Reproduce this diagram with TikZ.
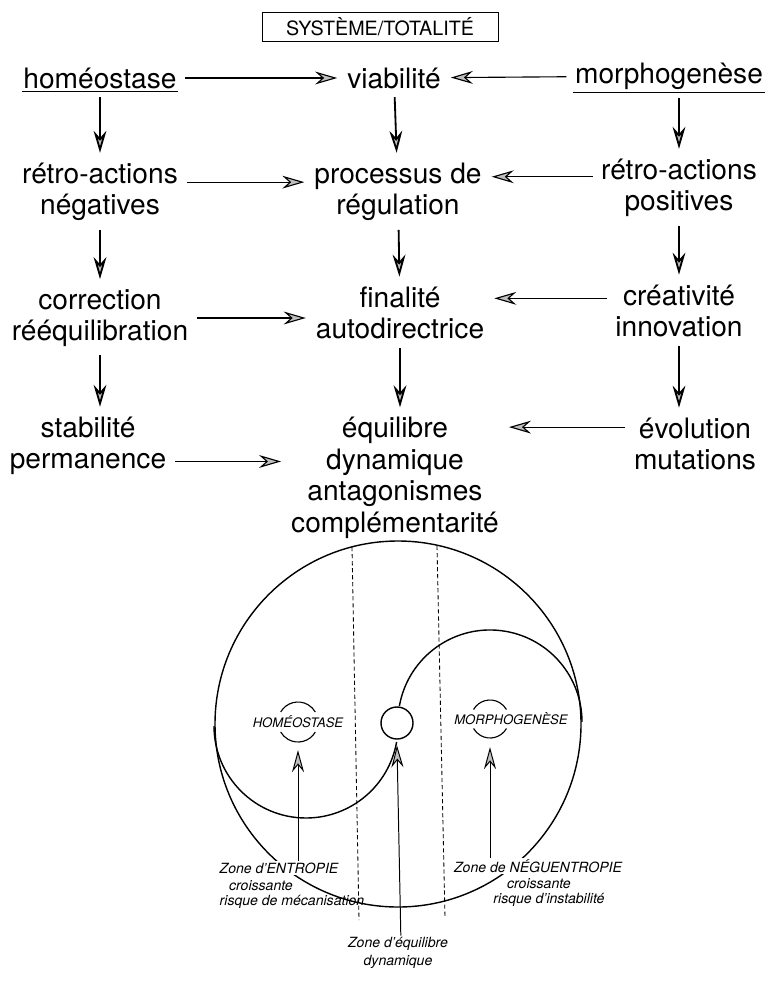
\documentclass[tikz,border=0pt]{standalone}
\usepackage{fontspec}
\setmainfont{TeX Gyre Heros}
\usetikzlibrary{arrows.meta,positioning}
\tikzset{
  term/.style={align=center,font=\fontsize{20}{22.4}\selectfont,inner sep=1pt},
  headbox/.style={draw,line width=0.6pt,minimum width=5.9cm,minimum height=0.72cm,
                  inner sep=2pt,font=\fontsize{14}{16}\selectfont},
  flowarr/.style={-{Stealth[length=5.5mm,width=3.2mm,inset=1.8mm,fill=gray!50]},
                  line width=0.8pt,shorten <=5pt,shorten >=6pt},
  downarr/.style={flowarr,line width=1.3pt},
  zonetxt/.style={font=\fontsize{10}{12}\selectfont\itshape,inner sep=1pt},
  symtxt/.style={font=\fontsize{9.3}{11}\selectfont\itshape,inner sep=1pt},
  zonearr/.style={-{Stealth[length=5.5mm,width=3mm,inset=1.8mm,fill=gray!50]},line width=0.7pt},
  zonesep/.style={line width=0.6pt,dash pattern=on 3pt off 2pt}
}
\begin{document}
\begin{tikzpicture}[x=0.025cm,y=-0.025cm]
  \useasboundingbox (0,0) rectangle (764,984);

  % header
  \node[headbox] (sys) at (380,27) {SYSTÈME/TOTALITÉ};

  % three columns
  \node[term] (homeo) at (100,78) {homéostase};
  \node[term] (viab) at (394,78) {viabilité};
  \node[term] (morph) at (669,76) {morphogenèse};
  \node[term] (retroN) at (100,192) {rétro-actions\\négatives};
  \node[term] (proc) at (398,192) {processus de\\régulation};
  \node[term] (retroP) at (679,188) {rétro-actions\\positives};
  \node[term] (corr) at (100,318) {correction\\rééquilibration};
  \node[term] (final) at (400,313) {finalité\\autodirectrice};
  \node[term] (creat) at (679,311) {créativité\\innovation};
  \node[term] (stab) at (88,446) {stabilité\\permanence};
  \node[term] (equil) at (395,478) {équilibre\\dynamique\\antagonismes\\complémentarité};
  \node[term] (evol) at (695,444) {évolution\\mutations};

  \draw[line width=0.6pt] ([yshift=-1pt]homeo.south west) -- ([yshift=-1pt]homeo.south east);
  \draw[line width=0.6pt] ([yshift=-1pt]morph.south west) -- ([yshift=-1pt]morph.south east);

  \draw[downarr] (homeo) -- (retroN);
  \draw[downarr] (retroN) -- (corr);
  \draw[downarr] (corr.south) -- (corr.south |- stab.north);
  \draw[downarr] (viab) -- (proc);
  \draw[downarr] (proc) -- (final);
  \draw[downarr] (final) -- (final.south |- equil.north);
  \draw[downarr] (retroP |- morph.south) -- (retroP);
  \draw[downarr] (retroP) -- (creat);
  \draw[downarr] (creat.south) -- (creat.south |- evol.north);

  \draw[flowarr] (homeo) -- (viab);
  \draw[flowarr] (morph) -- (viab);
  \draw[flowarr] ([yshift=7pt]retroN.east) -- ([yshift=7pt]retroN.east -| proc.west);
  \draw[flowarr] ([yshift=8pt]retroP.west) -- ([yshift=8pt]retroP.west -| proc.east);
  \draw[flowarr] (corr.east) -- (corr.east -| final.west);
  \draw[flowarr] ([yshift=9pt]creat.west) -- ([yshift=9pt]creat.west -| final.east);
  \draw[flowarr] ([yshift=12pt]evol.west) -- ([yshift=12pt]evol.west -| equil.east);
  \draw[flowarr] ([yshift=-11pt]stab.east) -- ([yshift=-11pt]stab.east -| equil.west);

  % yin-yang
  \draw[line width=1pt] (398,724) circle[radius=183];
  \draw[line width=1pt] (399.4,706) arc[start angle=190,end angle=360,radius=92];
  \draw[line width=1pt] (214,726) arc[start angle=180,end angle=10,radius=92];
  \node[circle,draw,line width=1pt,minimum size=0.8cm,inner sep=0pt] (core) at (397,723) {};
  \draw[zonesep] (352,547) -- (359,920);
  \draw[zonesep] (437,546) -- (445,918);

  \coordinate (hring) at (298,722);
  \coordinate (mring) at (490,719);
  \node[symtxt] (hsym) at (hring) {HOMÉOSTASE};
  \node[symtxt] (msym) at (511,719) {MORPHOGENÈSE};
  \draw[line width=0.8pt] (hring) ++(210:20) arc[start angle=210,end angle=330,radius=20];
  \draw[line width=0.8pt] (hring) ++(30:20) arc[start angle=30,end angle=150,radius=20];
  \draw[line width=0.8pt] (mring) ++(210:19) arc[start angle=210,end angle=330,radius=19];
  \draw[line width=0.8pt] (mring) ++(30:19) arc[start angle=30,end angle=150,radius=19];

  % zones
  \node[zonetxt,fill=white] (zent) at (279,868) {Zone d'ENTROPIE};
  \node[zonetxt] (zentb) at (261,886) {croissante};
  \node[zonetxt] (zentc) at (292,902) {risque de mécanisation};
  \node[zonetxt,fill=white] (zneg) at (538,866) {Zone de NÉGUENTROPIE};
  \node[zonetxt] (znegb) at (539,884) {croissante};
  \node[zonetxt] (znegc) at (549,900) {risque d'instabilité};
  \node[zonetxt] (zeq) at (398,944) {Zone d'équilibre};
  \node[zonetxt] (zeqb) at (398,962) {dynamique};

  \draw[zonearr] (zent.north -| hring) -- ([yshift=-20pt]hring);
  \draw[zonearr] ([xshift=2pt]zeq.north) -- ([yshift=-4pt]core.south);
  \draw[zonearr] (zneg.north -| mring) -- ([yshift=-20pt]mring);
\end{tikzpicture}
\end{document}
